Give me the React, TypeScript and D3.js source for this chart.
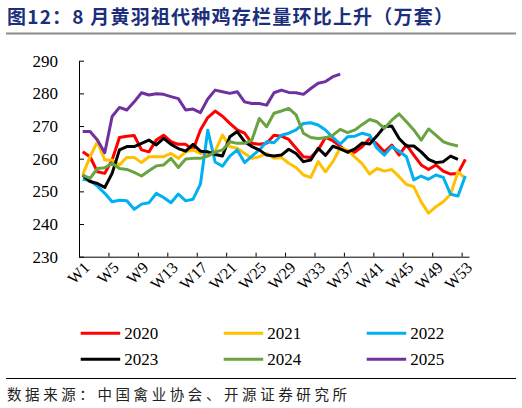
import React, { useEffect, useRef } from 'react';
import * as d3 from 'd3';

// weekly stock of grandparent yellow-feather breeders (10k sets)
const weeks: string[] = Array.from({ length: 53 }, (_, i) => `W${i + 1}`);
const tickWeeks = ['W1', 'W5', 'W9', 'W13', 'W17', 'W21', 'W25', 'W29', 'W33', 'W37', 'W41', 'W45', 'W49', 'W53'];
const yTicks = [230, 240, 250, 260, 270, 280, 290];

const s2020 = [262.1, 260.6, 256, 255.5, 259.6, 266.5, 266.9, 267.1, 262.7, 262.1, 265.7, 267.2, 265.2, 264.4, 264.4, 262.7, 268.8, 272.6, 274.6, 273, 270.8, 268.8, 267.8, 264.7, 264.4, 264.7, 267.2, 266.9, 265.9, 263.2, 260.6, 260.4, 262.7, 266.5, 265.5, 263.8, 262, 262, 263.7, 266.2, 264.5, 262.1, 264.2, 261.1, 264.2, 261.1, 258.1, 256.7, 258.1, 256.2, 255.3, 255.5, 259.8];
const s2021 = [255, 260.6, 265.2, 259.6, 259.6, 258.1, 260.4, 260.4, 258.8, 260.6, 260.6, 260.6, 261.6, 260.1, 262.1, 262.7, 261.6, 261.6, 262.3, 267.2, 263.7, 263.2, 261.6, 260.1, 260.6, 261.6, 260.1, 260.4, 258.6, 257.3, 255, 254.3, 259.1, 256, 259.1, 263.3, 262.6, 260.5, 258.4, 255.3, 257, 256.2, 256.7, 254.5, 252.1, 251.4, 246.8, 243.3, 245.3, 246.8, 249.1, 256, 254];
const s2022 = [253.7, 253.3, 251.6, 249.4, 246.8, 247.3, 247.1, 244.5, 246.1, 246.5, 249.4, 248.1, 246.5, 249.2, 247.1, 247.6, 252.2, 268.7, 259, 257.7, 260.8, 262.7, 258.8, 260.8, 262.7, 265.2, 264.9, 267.2, 267.8, 268.8, 270.8, 271, 270.3, 268.8, 266.5, 264.5, 266.7, 266.9, 267.8, 267.2, 263.2, 261.1, 263.7, 262.3, 260.6, 253.5, 254.7, 253.7, 255, 254.3, 249.1, 248.6, 254.7];
const s2023 = [255, 253, 252.4, 251.2, 255.5, 262.7, 263.7, 263.7, 264.7, 265.7, 264.2, 266.2, 264.4, 263.1, 262.3, 264.4, 262.3, 262.1, 261.3, 260.8, 266.7, 268.3, 265.2, 263.7, 262.7, 261.1, 260.8, 261.1, 262.9, 261.6, 259.1, 259.6, 263.2, 261, 263.8, 263, 262, 263, 264.8, 264.5, 267, 269.8, 270, 266.2, 263.9, 263.9, 262.1, 259.8, 258.8, 259.1, 260.8, 259.8];
const s2024 = [255, 254, 257, 257.2, 258.6, 257, 256.7, 255.8, 254.7, 256.3, 257.8, 258.1, 260.1, 257.3, 259.9, 260.1, 260.1, 260.8, 262, 262.7, 265.2, 264.7, 264.7, 265.7, 272.3, 269.8, 273.9, 274.6, 275.4, 273.4, 267.8, 266.5, 266.2, 266.4, 267.2, 269, 268, 268.8, 270.5, 272, 271.3, 269.3, 271.8, 273.7, 271.3, 268.8, 265.7, 269.1, 267.2, 265.2, 264.4, 263.9];
const s2025 = [268.3, 268.3, 265.7, 261.8, 272.9, 275.7, 274.9, 277.4, 280.2, 279.5, 279.9, 279.7, 279, 278.4, 274.9, 275.2, 274.1, 278.3, 281, 280.5, 280, 280.5, 277.4, 276.9, 276.9, 276.4, 280.2, 281, 280.3, 280.2, 279.7, 281.5, 283.1, 283.6, 285.1, 285.9];

const seriesNames = ['2020', '2021', '2022', '2023', '2024', '2025'];
const seriesValues = [s2020, s2021, s2022, s2023, s2024, s2025];
const seriesColors = ['#FF0000', '#FFC000', '#00B0F0', '#000000', '#6AA342', '#7030A0'];

const App: React.FC = () => {
  const svgRef = useRef<SVGSVGElement>(null);

  useEffect(() => {
    if (!svgRef.current) return;
    const svg = d3.select(svgRef.current);
    svg.selectAll('*').remove();

    const left = 79;
    const right = 469;
    const top = 60.7;
    const bottom = 256.7;

    // Title
    svg.append('text')
      .attr('x', 7)
      .attr('y', 24)
      .attr('font-family', '"Noto Sans CJK SC"')
      .attr('font-weight', 'bold')
      .attr('font-size', 19)
      .attr('fill', '#1B2F7C')
      .attr('textLength', 446)
      .attr('lengthAdjust', 'spacing')
      .text('图12：8 月黄羽祖代种鸡存栏量环比上升（万套）');

    svg.append('line')
      .attr('x1', 6).attr('x2', 516)
      .attr('y1', 33.5).attr('y2', 33.5)
      .attr('stroke', '#8c8c8c')
      .attr('stroke-width', 2);

    const x = d3.scaleBand<string>().domain(weeks).range([left, right]);
    const xEdge = d3.scaleLinear().domain([0, weeks.length]).range([left, right]);
    const y = d3.scaleLinear().domain([230, 290]).range([bottom, top]);
    const cx = (w: string) => (x(w) ?? 0) + x.bandwidth() / 2;

    // Axes
    const yAxis = svg.append('g')
      .attr('transform', `translate(${left},0)`)
      .call(d3.axisLeft(y).tickValues(yTicks).tickSizeInner(-5).tickSizeOuter(0).tickPadding(21));
    yAxis.select('.domain').attr('stroke', '#000');
    yAxis.selectAll('.tick line').attr('stroke', '#000');
    yAxis.selectAll('.tick text')
      .attr('font-family', '"Liberation Serif", "Times New Roman", serif')
      .attr('font-size', 17)
      .attr('fill', '#000');

    const xAxis = svg.append('g')
      .attr('transform', `translate(0,${bottom})`)
      .call(d3.axisBottom(xEdge).tickValues(d3.range(0, 53, 4)).tickSizeInner(-4).tickSizeOuter(0).tickFormat(() => ''));
    xAxis.select('.domain').attr('stroke', '#000');
    xAxis.selectAll('.tick line').attr('stroke', '#000');

    svg.append('g')
      .selectAll('text')
      .data(tickWeeks)
      .enter()
      .append('text')
      .attr('transform', (d: string) => `translate(${cx(d)},${bottom + 4}) rotate(-45)`)
      .attr('text-anchor', 'end')
      .attr('dy', '0.7em')
      .attr('font-family', '"Liberation Serif", "Times New Roman", serif')
      .attr('font-size', 16)
      .attr('fill', '#000')
      .text((d: string) => d);

    // Lines
    const line = d3.line<number>()
      .x((_d: number, i: number) => cx(weeks[i]))
      .y((d: number) => y(d));

    seriesValues.forEach((vals, i) => {
      svg.append('path')
        .datum(vals)
        .attr('fill', 'none')
        .attr('stroke', seriesColors[i])
        .attr('stroke-width', 3)
        .attr('stroke-linejoin', 'round')
        .attr('d', line);
    });

    // Legend
    const legend = svg.append('g')
      .selectAll('g')
      .data(seriesNames)
      .enter()
      .append('g')
      .attr('transform', (_d: string, i: number) => `translate(${80.7 + (i % 3) * 143},${333.3 + Math.floor(i / 3) * 26})`);

    legend.append('line')
      .attr('x1', 0).attr('x2', 39.5)
      .attr('y1', 0).attr('y2', 0)
      .attr('stroke', (_d: string, i: number) => seriesColors[i])
      .attr('stroke-width', 3);

    legend.append('text')
      .attr('x', 43.5)
      .attr('y', 0)
      .attr('dy', '0.35em')
      .attr('font-family', '"Liberation Serif", "Times New Roman", serif')
      .attr('font-size', 17)
      .attr('fill', '#000')
      .text((d: string) => d);

    // Footer
    svg.append('line')
      .attr('x1', 6).attr('x2', 516)
      .attr('y1', 378.5).attr('y2', 378.5)
      .attr('stroke', '#000')
      .attr('stroke-width', 1);

    svg.append('text')
      .attr('x', 7)
      .attr('y', 400)
      .attr('font-family', '"Noto Sans CJK SC"')
      .attr('font-size', 14.5)
      .attr('fill', '#222')
      .attr('textLength', 340)
      .attr('lengthAdjust', 'spacing')
      .text('数据来源：中国禽业协会、开源证券研究所');
  }, []);

  return (
    <div style={{ position: 'absolute', left: 0, top: 0, width: 522, height: 408, background: '#fff' }}>
      <svg ref={svgRef} width={522} height={408}></svg>
    </div>
  );
};

export default App;
